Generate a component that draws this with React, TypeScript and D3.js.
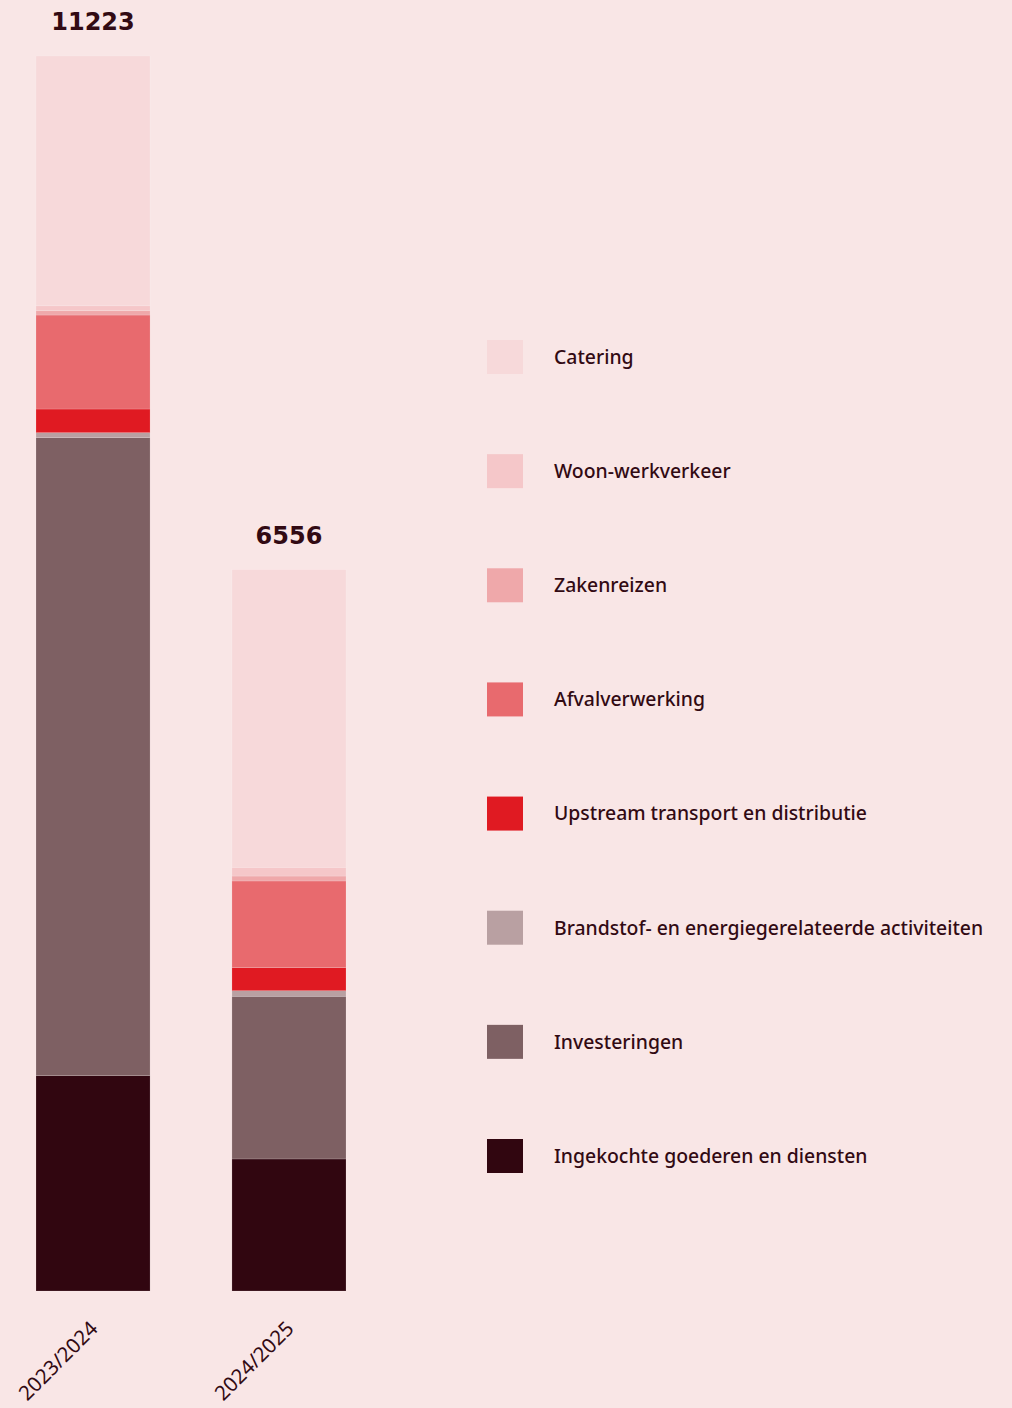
import { useEffect, useRef } from "react";
import * as d3 from "d3";

const years = ["2023/2024", "2024/2025"];
// stack order: bottom → top
const categories = [
  "Ingekochte goederen en diensten",
  "Investeringen",
  "Brandstof- en energiegerelateerde activiteiten",
  "Upstream transport en distributie",
  "Afvalverwerking",
  "Zakenreizen",
  "Woon-werkverkeer",
  "Catering",
];
const colors = ["#310610", "#7e6063", "#b9a0a2", "#e01a22", "#e86a6e", "#efa8aa", "#f5c7c9", "#f7d9da"];
const values2023 = [1957, 5798, 45, 215, 854, 39, 45, 2270];
const values2024 = [1200, 1478, 51, 209, 788, 45, 79, 2706];
const totals = [11223, 6556];

const W = 1012;
const H = 1408;
const BG = "#f9e6e6";
const INK = "#320a13";

export default function App() {
  const svgRef = useRef<SVGSVGElement | null>(null);

  useEffect(() => {
    const svg = d3.select(svgRef.current);
    svg.selectAll("*").remove();

    svg.append("rect").attr("width", W).attr("height", H).attr("fill", BG);

    const rows = years.map((y, i) => {
      const vals = i === 0 ? values2023 : values2024;
      const r: Record<string, number | string> = { year: y };
      categories.forEach((c, j) => (r[c] = vals[j]));
      return r;
    });

    const x = d3.scaleBand().domain(years).range([36, 346]).paddingInner(0.418).paddingOuter(0);
    const y = d3.scaleLinear().domain([0, 11223]).range([1291, 56]);
    const color = d3.scaleOrdinal<string>().domain(categories).range(colors);

    const stack = d3.stack<Record<string, number | string>>().keys(categories);
    const series = stack(rows as any);

    svg
      .append("g")
      .selectAll("g")
      .data(series)
      .join("g")
      .attr("fill", (d) => color(d.key))
      .selectAll("rect")
      .data((d) => d)
      .join("rect")
      .attr("x", (d) => x(d.data.year as string)!)
      .attr("width", x.bandwidth())
      .attr("y", (d) => y(d[1]))
      .attr("height", (d) => y(d[0]) - y(d[1]))
      .attr("stroke", "rgba(255,255,255,0.25)")
      .attr("stroke-width", 0.6);

    // totals
    svg
      .append("g")
      .selectAll("text")
      .data(years)
      .join("text")
      .attr("x", (d) => x(d)! + x.bandwidth() / 2)
      .attr("y", (_, i) => y(totals[i]) - 26)
      .attr("text-anchor", "middle")
      .attr("fill", INK)
      .attr("font-family", "DejaVu Sans, sans-serif")
      .attr("font-weight", 700)
      .attr("font-size", 24)
      .text((_, i) => String(totals[i]));

    // x labels
    svg
      .append("g")
      .selectAll("text")
      .data(years)
      .join("text")
      .attr("text-anchor", "end")
      .attr(
        "transform",
        (d) => `translate(${x(d)! + x.bandwidth() / 2 + 6},${1330}) rotate(-45)`
      )
      .attr("fill", INK)
      .attr("font-family", "Noto Sans, sans-serif")
      .attr("font-size", 20.5)
      .text((d) => d);

    // legend
    const legendItems = categories.slice().reverse();
    const ly = d3.scalePoint().domain(legendItems).range([357, 1156]);
    const lg = svg
      .append("g")
      .selectAll("g")
      .data(legendItems)
      .join("g")
      .attr("transform", (d) => `translate(487,${ly(d)})`);
    lg.append("rect")
      .attr("x", 0)
      .attr("y", -17)
      .attr("width", 36)
      .attr("height", 34)
      .attr("fill", (d) => color(d));
    lg.append("text")
      .attr("x", 67)
      .attr("dy", "0.35em")
      .attr("fill", INK)
      .attr("font-family", "Noto Sans, sans-serif")
      .attr("font-weight", 500)
      .attr("font-size", 19.4)
      .text((d) => d);
  }, []);

  return (
    <>
      <style>{`body{margin:0;background:${BG}}`}</style>
      <svg ref={svgRef} width={W} height={H} style={{ display: "block" }} />
    </>
  );
}
